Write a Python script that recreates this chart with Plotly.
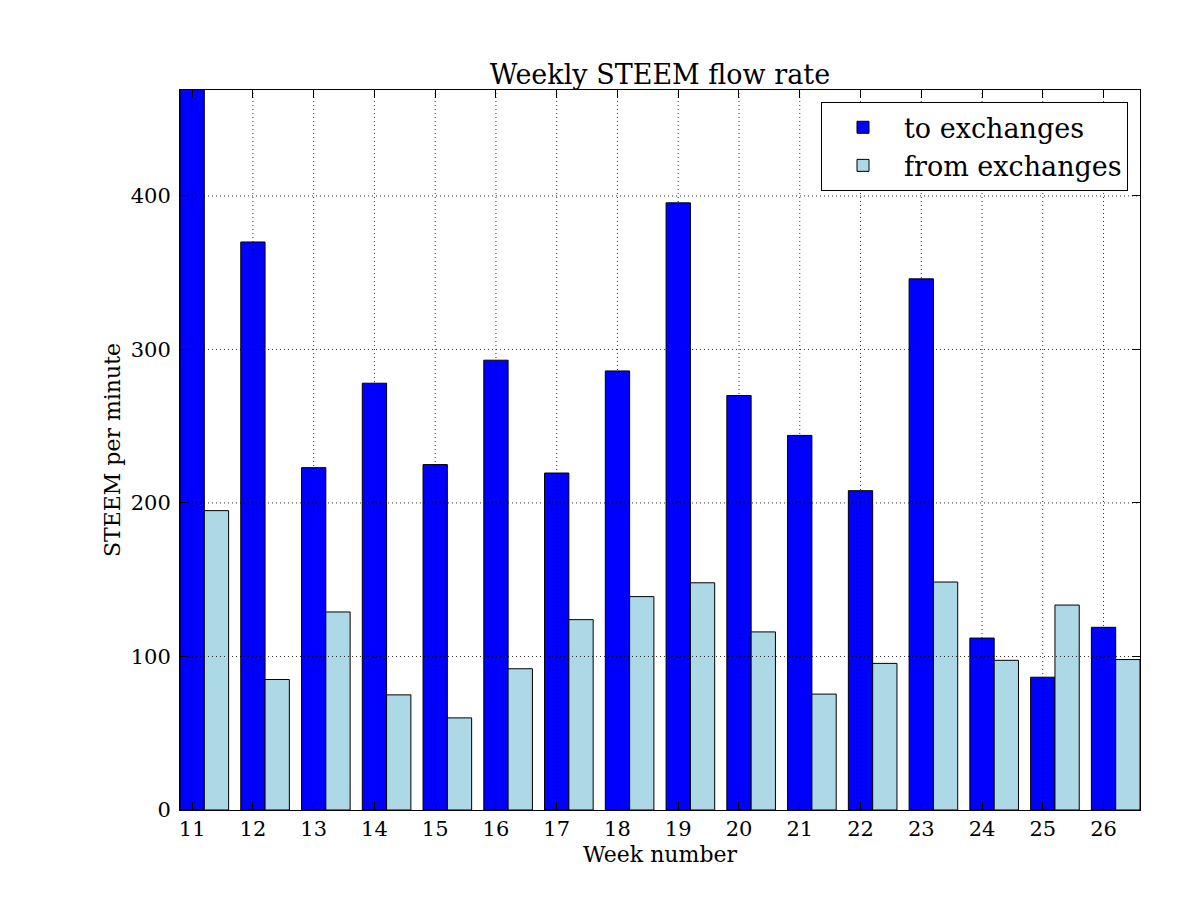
import plotly.graph_objects as go

# semanas y tasas (STEEM por minuto)
weeks = list(range(11, 27))
to_exchanges = [520, 370, 223, 278, 225, 293, 219.5, 286, 395.5, 270, 244, 208, 346, 112, 86.5, 119]
from_exchanges = [195, 85, 129, 75, 60, 92, 124, 139, 148, 116, 75.5, 95.5, 148.5, 97.5, 133.5, 98]
y_ticks = [0, 100, 200, 300, 400]

FONT = "DejaVu Serif"

fig = go.Figure()
fig.add_trace(go.Bar(
    x=weeks, y=to_exchanges, name="to exchanges",
    width=0.4, offset=-0.2,
    marker=dict(color="#0000FF", line=dict(color="black", width=1)),
))
fig.add_trace(go.Bar(
    x=weeks, y=from_exchanges, name="from exchanges",
    width=0.4, offset=0.2,
    marker=dict(color="#ADD8E6", line=dict(color="black", width=1)),
))

# rejilla punteada por encima de las barras (como en matplotlib)
grid = dict(color="black", width=0.8, dash="1px,3px")
for w in weeks:
    fig.add_shape(type="line", xref="x", yref="paper", x0=w, x1=w, y0=0, y1=1,
                  line=grid, layer="above")
for t in y_ticks[1:]:
    fig.add_shape(type="line", xref="paper", yref="y", x0=0, x1=1, y0=t, y1=t,
                  line=grid, layer="above")

fig.update_layout(
    width=1200, height=900,
    margin=dict(l=172, r=68, t=82, b=98),
    paper_bgcolor="white", plot_bgcolor="white",
    font=dict(family=FONT, color="black", size=21),
    barmode="overlay",
    title=dict(text="Weekly STEEM flow rate", x=0.5, xref="paper", xanchor="center",
               y=1, yref="paper", yanchor="bottom", pad=dict(b=6),
               font=dict(family=FONT, size=27, color="black")),
    legend=dict(x=0.9875, y=0.983, xanchor="right", yanchor="top",
                bgcolor="white", bordercolor="black", borderwidth=1,
                font=dict(family=FONT, size=27), itemwidth=72,
                tracegroupgap=4),
    showlegend=True,
    xaxis=dict(range=[10.8, 26.6], tickvals=weeks, ticks="inside", ticklen=8,
               tickcolor="black", showline=True, linecolor="black", linewidth=1,
               mirror="ticks", showgrid=False, zeroline=False,
               title=dict(text="Week number", standoff=6, font=dict(size=22)),
               tickfont=dict(size=21), layer="above traces"),
    yaxis=dict(range=[0, 469], tickvals=y_ticks, ticks="inside", ticklen=8,
               tickcolor="black", showline=True, linecolor="black", linewidth=1,
               mirror="ticks", showgrid=False, zeroline=False,
               title=dict(text="STEEM per minute", standoff=4, font=dict(size=22)),
               tickfont=dict(size=21), ticklabelstandoff=4, layer="above traces"),
)

fig.write_html("out.html")
